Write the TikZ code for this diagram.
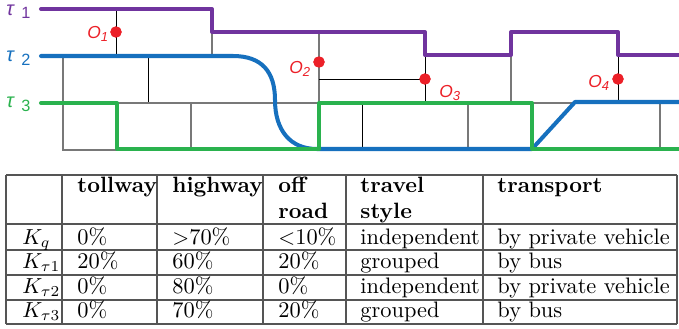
\documentclass[tikz,border=0pt]{standalone}
\usepackage{fontspec}
\newfontfamily\lsans{Liberation Sans}
\definecolor{tpurple}{RGB}{112,52,158}
\definecolor{tblue}{RGB}{22,112,190}
\definecolor{tgreen}{RGB}{42,178,78}
\definecolor{tred}{RGB}{236,32,40}
\definecolor{tgrid}{RGB}{120,120,120}
\definecolor{trule}{RGB}{85,85,85}
\tikzset{
  track/.style={line width=1.85pt, line cap=round, line join=round},
  gridk/.style={line width=0.45pt, black},
  gridg/.style={line width=0.5pt, tgrid},
  rule/.style={line width=0.6pt, trule},
  dot/.style={circle, fill=tred, inner sep=0pt, minimum size=5.2pt},
  tlab/.style={inner sep=0pt, anchor=base west, font=\lsans\itshape\fontsize{9.2}{11}\selectfont},
  nlab/.style={inner sep=0pt, anchor=base west, font=\lsans\fontsize{7.5}{9}\selectfont},
  olab/.style={inner sep=0pt, anchor=base west, text=tred, font=\lsans\fontsize{8}{9}\selectfont},
  cell/.style={inner sep=0pt, anchor=base west, font=\fontsize{10.3}{12.4}\selectfont},
  hcell/.style={cell, font=\bfseries\fontsize{10.2}{12.4}\selectfont, align=left},
}
\begin{document}
\begin{tikzpicture}[x=0.46pt, y=-0.46pt]
\useasboundingbox (0,0) rectangle (679,328);

% ---- thin grid lines ----
\node[dot] (o1) at (116,32) {};
\node[dot] (o2) at (319,62) {};
\node[dot] (o3) at (425,79) {};
\node[dot] (o4) at (618,79) {};

\draw[gridk] (116,9) -- (116,56);
\draw[gridg] (212,32) -- (212,56);
\draw[gridg] (63,56) -- (63,150) -- (117,150);
\draw[gridk] (148,56) -- (148,103);
\draw[gridg] (117,103) -- (319,103);
\draw[gridg] (191,103) -- (191,149);
\draw[gridg] (319,32) -- (319,103);
\draw[gridk] (319,79) -- (425,79);
\draw[gridk] (425,55) -- (425,103);
\draw[gridk] (362,103) -- (362,149);
\draw[gridg] (468,103) -- (468,149);
\draw[gridg] (511,55) -- (511,103);
\draw[gridg] (532,103) -- (575,103);
\draw[gridk] (618,55) -- (618,102);
\draw[gridg] (660,102) -- (660,149);

% ---- tracks ----
\draw[track, tpurple] (41,9) -- (212,9) -- (212,32) -- (425,32) -- (425,55) -- (511,55)
  -- (511,32) -- (618,32) -- (618,55) -- (679,55);
\draw[track, tblue] (41,56) -- (233,56) .. controls (262,56) and (275,72) .. (275,100)
  .. controls (275,130) and (290,149) .. (317,149) -- (532,149) -- (575,102) -- (679,102);
\draw[track, tgreen] (41,103) -- (117,103) -- (117,149) -- (319,149) -- (319,103)
  -- (532,103) -- (532,149) -- (679,149);

% redraw dots on top
\fill[tred] (o1) circle (2.6pt);
\fill[tred] (o2) circle (2.6pt);
\fill[tred] (o3) circle (2.6pt);
\fill[tred] (o4) circle (2.6pt);

% ---- track labels ----
\node[tlab, text=tpurple] (t1) at (6,15) {τ};
\node[nlab, text=tpurple] (t1n) at (21,18.5) {1};
\node[tlab, text=tblue] (t2) at (6,61.5) {τ};
\node[nlab, text=tblue] (t2n) at (21,65) {2};
\node[tlab, text=tgreen] (t3) at (6,107.5) {τ};
\node[nlab, text=tgreen] (t3n) at (21,111) {3};

% ---- object labels ----
\node[olab] (l1) at (87,38) {\itshape O\raisebox{-0.35ex}{\fontsize{6}{7}\selectfont 1}};
\node[olab] (l2) at (289,73) {\itshape O\raisebox{-0.35ex}{\fontsize{6}{7}\selectfont 2}};
\node[olab] (l3) at (439,97) {\itshape O\raisebox{-0.35ex}{\fontsize{6}{7}\selectfont 3}};
\node[olab] (l4) at (588,87) {\itshape O\raisebox{-0.35ex}{\fontsize{6}{7}\selectfont 4}};

% ---- table rules ----
\foreach \yy in {175,224,250,275,300,324} \draw[rule] (6,\yy) -- (677,\yy);
\foreach \xx in {6,62,157,263,346,483,677} \draw[rule] (\xx,175) -- (\xx,324);

% ---- header ----
\node[hcell] (h1) at (77,192) {tollway};
\node[hcell] (h2) at (172,192) {highway};
\node[hcell] (h3a) at (278,192) {off};
\node[hcell] (h3b) at (278,218) {road};
\node[hcell] (h4a) at (360,192) {travel};
\node[hcell] (h4b) at (360,218) {style};
\node[hcell] (h5) at (497,192) {transport};

% ---- rows ----
\node[cell] (r1c0) at (22,244) {$K_q$};
\node[cell] (r1c1) at (77,244) {0\%};
\node[cell] (r1c2) at (172,244) {$>$70\%};
\node[cell] (r1c3) at (278,244) {$<$10\%};
\node[cell] (r1c4) at (360,244) {independent};
\node[cell] (r1c5) at (497,244) {by private vehicle};

\node[cell] (r2c0) at (22,268.5) {$K_{\tau1}$};
\node[cell] (r2c1) at (77,268.5) {20\%};
\node[cell] (r2c2) at (172,268.5) {60\%};
\node[cell] (r2c3) at (278,268.5) {20\%};
\node[cell] (r2c4) at (360,268.5) {grouped};
\node[cell] (r2c5) at (497,268.5) {by bus};

\node[cell] (r3c0) at (22,293) {$K_{\tau2}$};
\node[cell] (r3c1) at (77,293) {0\%};
\node[cell] (r3c2) at (172,293) {80\%};
\node[cell] (r3c3) at (278,293) {0\%};
\node[cell] (r3c4) at (360,293) {independent};
\node[cell] (r3c5) at (497,293) {by private vehicle};

\node[cell] (r4c0) at (22,317.5) {$K_{\tau3}$};
\node[cell] (r4c1) at (77,317.5) {0\%};
\node[cell] (r4c2) at (172,317.5) {70\%};
\node[cell] (r4c3) at (278,317.5) {20\%};
\node[cell] (r4c4) at (360,317.5) {grouped};
\node[cell] (r4c5) at (497,317.5) {by bus};
\end{tikzpicture}
\end{document}
